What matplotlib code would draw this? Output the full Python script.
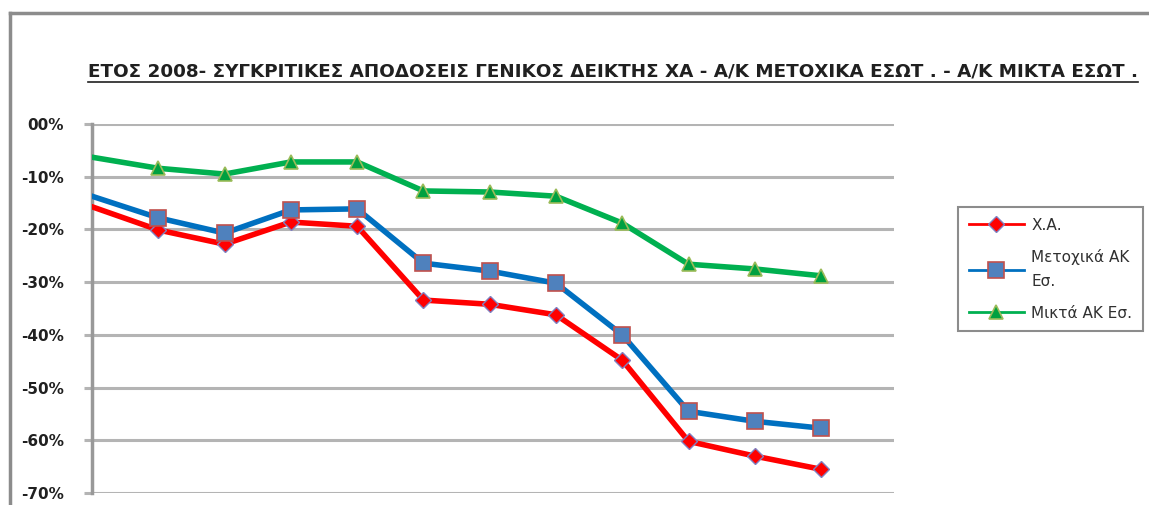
import matplotlib
matplotlib.use('Agg')
import matplotlib.pyplot as plt
from matplotlib.lines import Line2D
import numpy as np

# Monthly cumulative returns 2008 (%)
months = np.arange(12)
xa = [-15.7, -20.1, -22.8, -18.6, -19.4, -33.4, -34.2, -36.2, -44.8, -60.2, -63.0, -65.5]
metoxika = [-13.7, -17.8, -20.7, -16.3, -16.1, -26.4, -27.9, -30.2, -40.0, -54.5, -56.4, -57.7]
mikta = [-6.3, -8.4, -9.5, -7.2, -7.2, -12.7, -12.9, -13.7, -18.8, -26.6, -27.5, -28.8]

series_labels = ['Χ.Α.', 'Μετοχικά ΑΚ\nΕσ.', 'Μικτά ΑΚ Εσ.']
yticks = [0, -10, -20, -30, -40, -50, -60, -70]
ytick_labels = ['00%', '-10%', '-20%', '-30%', '-40%', '-50%', '-60%', '-70%']
title = 'ΕΤΟΣ 2008- ΣΥΓΚΡΙΤΙΚΕΣ ΑΠΟΔΟΣΕΙΣ ΓΕΝΙΚΟΣ ΔΕΙΚΤΗΣ ΧΑ - Α/Κ ΜΕΤΟΧΙΚΑ ΕΣΩΤ . - Α/Κ ΜΙΚΤΑ ΕΣΩΤ .'

W, H = 1149, 505
fig = plt.figure(figsize=(W / 100, H / 100), dpi=100)

# plot area in pixels: x 92..894, y 124..493
ax = fig.add_axes([92 / W, (H - 493) / H, (894 - 92) / W, (493 - 124) / H])
ax.set_xlim(0, 12.1)
ax.set_ylim(-70, 0)

ax.plot(months, xa, color='#ff0000', lw=4, marker='D', ms=8,
        mfc='#ff0000', mec='#8080c0', mew=1, markevery=range(1, 12),
        label=series_labels[0], zorder=3)
ax.plot(months, metoxika, color='#0070c0', lw=4, marker='s', ms=11,
        mfc='#4f81bd', mec='#c0504d', mew=1.2, markevery=range(1, 12),
        label=series_labels[1], zorder=4)
ax.plot(months, mikta, color='#00b050', lw=4, marker='^', ms=10,
        mfc='#00a040', mec='#9bbb59', mew=1.2, markevery=range(1, 12),
        label=series_labels[2], zorder=3)

ax.set_yticks(yticks)
ax.set_yticklabels(ytick_labels, fontsize=11, fontweight='bold', color='#202020')
ax.set_xticks([])
ax.yaxis.grid(True, color='#b4b4b4', lw=2.2)
ax.tick_params(axis='y', length=6, width=2.2, color='#b4b4b4', pad=14)
for s in ['top', 'right', 'bottom']:
    ax.spines[s].set_visible(False)
ax.spines['left'].set_color('#999999')
ax.spines['left'].set_linewidth(2.5)
ax.set_axisbelow(True)

# outer chart border (top and left visible)
fig.add_artist(Line2D([9.5 / W, 9.5 / W], [0, 1 - 13 / H], color='#8c8c8c', lw=2.5))
fig.add_artist(Line2D([9.5 / W, 1], [1 - 13 / H, 1 - 13 / H], color='#8c8c8c', lw=2.5))

# title, underlined
t = fig.text(88 / W, 1 - 72 / H, title, fontsize=13.2, fontweight='bold',
             family='DejaVu Sans Condensed', color='#202020', va='center', ha='left')
fig.canvas.draw()
bb = t.get_window_extent(fig.canvas.get_renderer())
uy = (bb.y0 - 1) / H
fig.add_artist(Line2D([bb.x0 / W, bb.x1 / W], [uy, uy], color='#202020', lw=1.2))

leg = fig.legend(loc='upper left', bbox_to_anchor=(958 / W, 1 - 207 / H),
                 borderaxespad=0, fontsize=11, handlelength=3.6, handletextpad=0.5,
                 labelspacing=1.1, borderpad=0.7, fancybox=False,
                 edgecolor='#8c8c8c', framealpha=1)
leg.get_frame().set_linewidth(1.5)
for h in leg.legend_handles:
    h.set_linewidth(2)
for txt in leg.get_texts():
    txt.set_color('#303030')
    txt.set_linespacing(1.7)

fig.savefig('out.png', dpi=100)
